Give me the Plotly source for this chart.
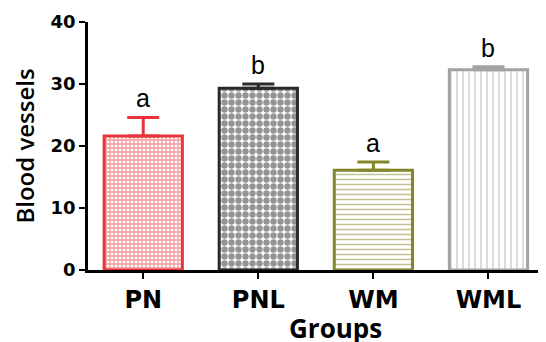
import plotly.graph_objects as go

groups = ["PN", "PNL", "WM", "WML"]
means = [21.6, 29.3, 16.1, 32.3]
errors = [3.0, 0.7, 1.3, 0.5]
letters = ["a", "b", "a", "b"]
y_ticks = [0, 10, 20, 30, 40]

colors = ["#E8333B", "#2A2A2A", "#85852A", "#A3A3A3"]
shapes = ["+", ".", "-", "|"]
sizes = [4, 7, 5, 6]
solid = [0.55, 0.65, 0.3, 0.25]

fig = go.Figure()
for i, g in enumerate(groups):
    fig.add_trace(go.Bar(
        x=[g], y=[means[i]], width=0.68,
        marker=dict(
            color="white",
            line=dict(color=colors[i], width=3),
            pattern=dict(shape=shapes[i], fgcolor=colors[i], bgcolor="white",
                         size=sizes[i], solidity=solid[i], fillmode="overlay"),
        ),
        error_y=dict(type="data", array=[errors[i]], arrayminus=[0],
                     symmetric=False, color=colors[i], thickness=3, width=16),
        showlegend=False,
    ))
    fig.add_annotation(x=g, y=means[i] + errors[i], text=letters[i],
                       showarrow=False, yanchor="bottom", yshift=3,
                       font=dict(family="Liberation Sans, Arial", size=25, color="black"))

fig.add_annotation(text="Groups", xref="paper", yref="paper", x=0.541, y=0,
                   yanchor="top", yshift=-38, showarrow=False,
                   font=dict(family="Open Sans", size=26, color="black", weight="bold"))

# page body has an 8px default margin, so margins are offset to compensate
fig.update_layout(
    width=546, height=342,
    margin=dict(l=80, r=8, t=14, b=80),
    plot_bgcolor="white", paper_bgcolor="white",
    barmode="overlay",
    xaxis=dict(
        range=[-0.48, 3.5], showline=True, linecolor="black", linewidth=2.5,
        ticks="outside", ticklen=6, tickwidth=2, tickcolor="black",
        tickfont=dict(family="DejaVu Sans", size=24, color="black", weight="bold"),
        showgrid=False, zeroline=False, automargin=False,
    ),
    yaxis=dict(
        range=[0, 40], tickvals=y_ticks, showline=True, linecolor="black", linewidth=2.5,
        ticks="outside", ticklen=6, tickwidth=2, tickcolor="black",
        tickfont=dict(family="DejaVu Sans", size=18, color="black", weight="bold"),
        title=dict(text="Blood vessels", standoff=12,
                   font=dict(family="Open Sans", size=24, color="black", weight=600)),
        showgrid=False, zeroline=False, automargin=False,
    ),
)

fig.write_html("out.html")
